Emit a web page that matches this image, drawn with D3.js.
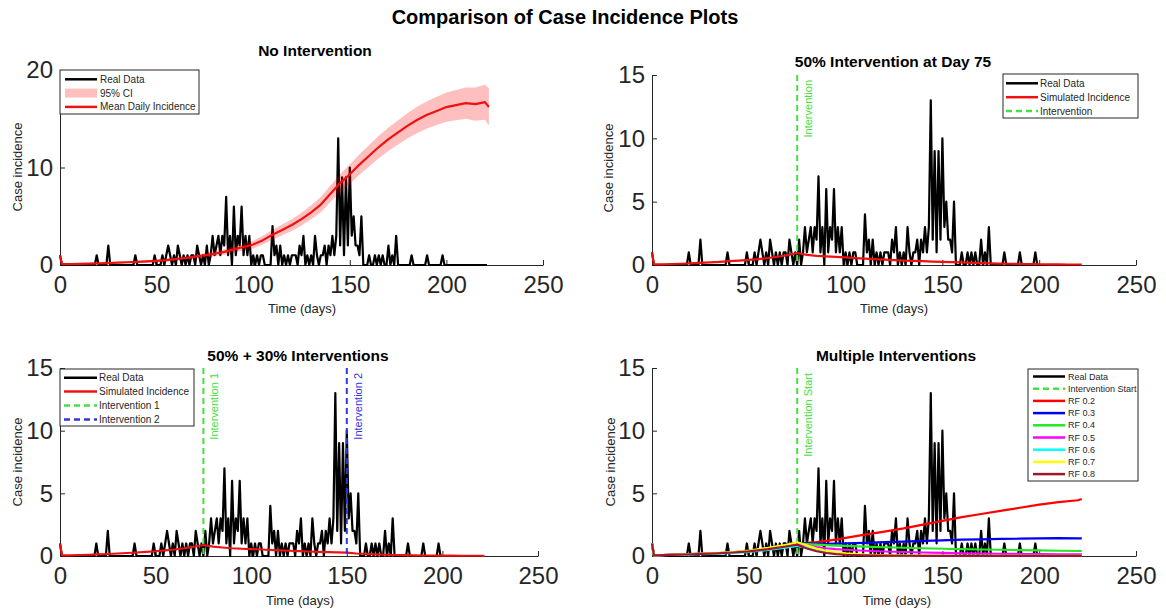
<!DOCTYPE html>
<html>
<head>
<meta charset="utf-8">
<script src="https://cdn.jsdelivr.net/npm/d3@7"></script>
<style>
body { margin: 0; background: #fff; }
svg { display: block; font-family: 'Liberation Sans', Arial, Helvetica, sans-serif; }
</style>
</head>
<body>
<svg id="chart" width="1166" height="612"></svg>
<script>
// reported daily cases, index = day
var realData = [
    1,0,0,0,0,0,0,0,0,0,
    0,0,0,0,0,0,0,0,0,1,
    0,0,0,0,0,2,0,0,0,0,
    0,0,0,0,0,0,0,0,0,1,
    0,0,0,0,0,0,0,0,0,1,
    0,0,0,1,0,1,2,1,0,1,
    0,2,1,0,1,0,1,0,1,1,
    0,2,1,0,1,0,2,0,1,3,
    1,2,3,1,3,2,7,1,3,0,
    6,1,3,2,6,1,3,1,3,0,
    1,0,1,0,1,1,0,0,0,0,
    4,1,2,0,2,0,1,0,1,0,
    1,1,1,0,2,1,3,0,1,0,
    1,0,3,1,0,1,1,2,0,2,
    1,3,1,3,13,2,9,1,9,2,
    10,3,5,2,2,1,5,0,0,0,
    1,0,0,1,0,1,0,1,0,0,
    2,0,1,0,3,0,0,0,0,0,
    0,0,1,0,0,0,0,0,0,0,
    1,0,0,0,0,0,0,0,1,0,
    0,0,0,0,0,0,0,0,0,0,
    0,0,0,0,0,0,0,0,0,0,
    0,0
];

// simulation output days
var simDays = [0,1,5,10,15,20,25,30,35,40,45,50,55,60,65,70,75,80,85,90,95,100,105,110,115,120,
    125,130,135,140,145,150,155,160,165,170,175,180,185,190,195,200,205,210,215,220,222];

var noMean = [1.0,0.1,0.1,0.12,0.14,0.17,0.2,0.24,0.28,0.32,0.37,0.43,0.5,0.6,0.72,0.85,1.0,1.15,1.35,1.6,
    1.85,2.1,2.55,3.1,3.6,4.1,4.7,5.4,6.2,7.3,8.4,9.3,10.3,11.2,12.1,12.9,13.6,14.3,14.9,15.4,
    15.8,16.2,16.4,16.6,16.5,16.7,16.2];
var noLower = [0.95,0.05,0.05,0.06,0.07,0.09,0.11,0.14,0.17,0.2,0.24,0.29,0.35,0.43,0.53,0.64,0.77,0.89,1.06,1.28,
    1.49,1.7,2.1,2.6,3.05,3.5,4.04,4.68,5.42,6.45,7.48,8.3,9.25,10.1,10.95,11.7,12.35,13.0,13.55,14.0,
    14.35,14.7,14.85,15.0,14.8,14.9,14.3];
var noUpper = [1.05,0.15,0.15,0.18,0.21,0.25,0.29,0.34,0.39,0.44,0.5,0.57,0.65,0.77,0.91,1.06,1.23,1.41,1.64,1.92,
    2.21,2.5,3.0,3.6,4.15,4.7,5.36,6.12,6.98,8.15,9.32,10.3,11.35,12.3,13.25,14.1,14.85,15.6,16.25,16.8,
    17.25,17.7,17.95,18.2,18.2,18.5,18.1];

var oneSim = [1.0,0.05,0.05,0.08,0.1,0.13,0.16,0.2,0.25,0.3,0.35,0.4,0.47,0.55,0.65,0.78,0.95,0.8,0.72,0.68,
    0.64,0.6,0.55,0.5,0.46,0.42,0.38,0.35,0.32,0.3,0.27,0.25,0.22,0.2,0.17,0.15,0.13,0.11,0.1,0.08,
    0.07,0.06,0.05,0.05,0.04,0.04,0.04];
var twoSim = [1.0,0.05,0.05,0.08,0.1,0.13,0.16,0.2,0.24,0.28,0.33,0.38,0.45,0.52,0.62,0.74,0.88,0.75,0.68,0.62,
    0.58,0.55,0.52,0.48,0.45,0.42,0.39,0.36,0.33,0.31,0.29,0.27,0.2,0.16,0.13,0.1,0.08,0.07,0.05,0.04,
    0.04,0.03,0.03,0.02,0.02,0.02,0.02];

// reduction factor runs
var rfDays = [0,1,10,20,30,40,50,60,70,75,80,85,90,95,100,110,120,130,140,150,160,170,180,190,200,210,220,222];
var rf02 = [1.0,0.05,0.1,0.15,0.2,0.28,0.4,0.6,0.85,1.0,1.05,1.1,1.2,1.3,1.45,1.7,1.95,2.2,2.5,2.8,3.1,3.35,3.6,3.85,4.1,4.3,4.45,4.55];
var rf03 = [1.0,0.05,0.1,0.15,0.2,0.28,0.42,0.62,0.88,1.05,1.0,0.98,0.97,0.98,1.0,1.05,1.1,1.15,1.2,1.25,1.3,1.33,1.36,1.38,1.4,1.42,1.4,1.4];
var rf04 = [1.0,0.05,0.1,0.15,0.2,0.28,0.4,0.6,0.85,1.0,0.95,0.9,0.86,0.83,0.8,0.75,0.7,0.66,0.62,0.58,0.55,0.52,0.5,0.47,0.45,0.42,0.4,0.4];
var rf05 = [1.0,0.05,0.1,0.15,0.2,0.27,0.38,0.57,0.8,0.95,0.85,0.72,0.62,0.55,0.5,0.42,0.36,0.32,0.28,0.25,0.22,0.2,0.18,0.16,0.15,0.14,0.13,0.13];
var rf06 = [1.0,0.05,0.08,0.12,0.17,0.23,0.32,0.48,0.68,0.8,0.65,0.45,0.32,0.24,0.18,0.1,0.06,0.04,0.03,0.02,0.02,0.01,0.01,0.01,0.01,0.01,0.01,0.01];
var rf07 = [1.0,0.05,0.1,0.16,0.22,0.3,0.43,0.65,0.92,1.1,0.85,0.6,0.42,0.3,0.22,0.12,0.07,0.04,0.03,0.02,0.02,0.01,0.01,0.01,0.01,0.01,0.01,0.01];
var rf08 = [1.0,0.05,0.09,0.14,0.19,0.26,0.37,0.55,0.78,0.9,0.6,0.38,0.24,0.15,0.1,0.05,0.03,0.02,0.01,0.01,0.01,0.01,0.01,0.01,0.01,0.01,0.01,0.01];
var rfSeries = [rf02, rf03, rf04, rf05, rf06, rf07, rf08];
var rfLabels = ['RF 0.2', 'RF 0.3', 'RF 0.4', 'RF 0.5', 'RF 0.6', 'RF 0.7', 'RF 0.8'];
var rfColors = ['#ff0000', '#0000f0', '#22e822', '#ff00ff', '#00ffff', '#ffff00', '#a2142f'];

var xTicks = [0, 50, 100, 150, 200, 250];
var firstDay = 75, secondDay = 150;

var RED = '#ee1111', GREEN = '#44e044', BLUE = '#3535e0', AXIS = '#262626';

var svg = d3.select('#chart');

svg.append('text')
    .text('Comparison of Case Incidence Plots')
    .attr('x', 565)
    .attr('y', 17)
    .attr('dy', '0.35em')
    .attr('text-anchor', 'middle')
    .attr('font-size', 20)
    .attr('font-weight', 'bold');

function panel(o){
    var x = d3.scaleLinear().domain([0, 250]).range([o.left, o.right]),
        y = d3.scaleLinear().domain([0, o.ymax]).range([o.bottom, o.top]),
        g = svg.append('g');

    var ax = g.append('g')
        .attr('transform', 'translate(0,' + o.bottom + ')')
        .call(d3.axisBottom(x).tickValues(xTicks).tickSize(-5).tickSizeOuter(0).tickPadding(11));
    var ay = g.append('g')
        .attr('transform', 'translate(' + o.left + ',0)')
        .call(d3.axisLeft(y).tickValues(o.yTicks).tickSize(-5).tickSizeOuter(0).tickPadding(7));

    [ax, ay].forEach(function(a){
        a.attr('font-size', 24).attr('font-family', null);
        a.selectAll('.domain, .tick line').attr('stroke', AXIS).attr('stroke-width', 1);
        a.selectAll('text').attr('fill', AXIS);
    });

    g.append('text')
        .text(o.title)
        .attr('x', o.titleX)
        .attr('y', o.titleY)
        .attr('dy', '0.35em')
        .attr('text-anchor', 'middle')
        .attr('font-size', 15.5)
        .attr('font-weight', 'bold');

    g.append('text')
        .text('Case incidence')
        .attr('transform', 'translate(' + o.ylabX + ',' + o.ylabY + ') rotate(-90)')
        .attr('dy', '0.35em')
        .attr('text-anchor', 'middle')
        .attr('font-size', 13)
        .attr('fill', AXIS);

    g.append('text')
        .text('Time (days)')
        .attr('x', o.xlabX)
        .attr('y', o.xlabY)
        .attr('dy', '0.35em')
        .attr('text-anchor', 'middle')
        .attr('font-size', 13)
        .attr('fill', AXIS);

    return {x: x, y: y, g: g, o: o};
}

function drawReal(p){
    p.g.append('path')
        .datum(realData)
        .attr('d', d3.line().x((d, i) => p.x(i)).y(d => p.y(d)))
        .attr('fill', 'none')
        .attr('stroke', '#000')
        .attr('stroke-width', 2.2)
        .attr('stroke-linejoin', 'round');
}

function drawSim(p, days, values, color){
    p.g.append('path')
        .datum(values)
        .attr('d', d3.line().x((d, i) => p.x(days[i])).y(d => p.y(d)))
        .attr('fill', 'none')
        .attr('stroke', color)
        .attr('stroke-width', 2.2)
        .attr('stroke-linejoin', 'round');
}

function drawMarker(p, day, color, label){
    p.g.append('line')
        .attr('x1', p.x(day))
        .attr('x2', p.x(day))
        .attr('y1', p.y(p.o.ymax))
        .attr('y2', p.y(0))
        .attr('stroke', color)
        .attr('stroke-width', 2)
        .attr('stroke-dasharray', '6,4');

    p.g.append('text')
        .text(label)
        .attr('transform', 'translate(' + (p.x(day) + 11) + ',' + (p.y(p.o.ymax) + 5) + ') rotate(-90)')
        .attr('dy', '0.35em')
        .attr('text-anchor', 'end')
        .attr('font-size', 11)
        .attr('fill', color);
}

function legend(p, b, items){
    var g = p.g.append('g');

    g.append('rect')
        .attr('x', b.x)
        .attr('y', b.y)
        .attr('width', b.w)
        .attr('height', b.h)
        .attr('fill', '#fff')
        .attr('stroke', AXIS)
        .attr('stroke-width', 1);

    var row = g.selectAll('g.item')
        .data(items)
        .enter()
        .append('g')
        .attr('class', 'item')
        .attr('transform', (d, i) => 'translate(0,' + (b.first + i * b.step) + ')');

    row.filter(d => d.type === 'patch')
        .append('rect')
        .attr('x', b.lx1)
        .attr('y', -4.5)
        .attr('width', b.lx2 - b.lx1)
        .attr('height', 9)
        .attr('fill', d => d.color)
        .attr('fill-opacity', 0.25);

    row.filter(d => d.type !== 'patch')
        .append('line')
        .attr('x1', b.lx1)
        .attr('x2', b.lx2)
        .attr('stroke', d => d.color)
        .attr('stroke-width', 2.5)
        .attr('stroke-dasharray', d => d.type === 'dash' ? '6,4' : null);

    row.append('text')
        .text(d => d.label)
        .attr('x', b.tx)
        .attr('dy', '0.35em')
        .attr('font-size', b.font)
        .attr('fill', AXIS);
}

// --- No Intervention
var p1 = panel({left: 60, right: 543, top: 70, bottom: 265, ymax: 20, yTicks: [0, 10, 20],
    title: 'No Intervention', titleX: 315, titleY: 51,
    ylabX: 17, ylabY: 167, xlabX: 302, xlabY: 308});
drawReal(p1);
p1.g.append('path')
    .datum(noMean)
    .attr('d', d3.area()
        .x((d, i) => p1.x(simDays[i]))
        .y0((d, i) => p1.y(noLower[i]))
        .y1((d, i) => p1.y(noUpper[i])))
    .attr('fill', '#ff0000')
    .attr('fill-opacity', 0.25);
drawSim(p1, simDays, noMean, RED);
legend(p1, {x: 60, y: 70, w: 139, h: 44, first: 79.3, step: 13.8, lx1: 65, lx2: 97, tx: 100, font: 10}, [
    {label: 'Real Data', type: 'line', color: '#000'},
    {label: '95% CI', type: 'patch', color: '#ff0000'},
    {label: 'Mean Daily Incidence', type: 'line', color: RED}
]);

// --- 50% at day 75
var p2 = panel({left: 652, right: 1136, top: 75, bottom: 265, ymax: 15, yTicks: [0, 5, 10, 15],
    title: '50% Intervention at Day 75', titleX: 893, titleY: 62,
    ylabX: 608, ylabY: 168, xlabX: 894, xlabY: 308});
drawReal(p2);
drawSim(p2, simDays, oneSim, RED);
drawMarker(p2, firstDay, GREEN, 'Intervention');
legend(p2, {x: 1003, y: 74, w: 135, h: 44, first: 83.3, step: 13.9, lx1: 1006, lx2: 1038, tx: 1040, font: 10}, [
    {label: 'Real Data', type: 'line', color: '#000'},
    {label: 'Simulated Incidence', type: 'line', color: RED},
    {label: 'Intervention', type: 'dash', color: GREEN}
]);

// --- 50% + 30%
var p3 = panel({left: 60, right: 538, top: 368, bottom: 556, ymax: 15, yTicks: [0, 5, 10, 15],
    title: '50% + 30% Interventions', titleX: 298, titleY: 356,
    ylabX: 17, ylabY: 462, xlabX: 300, xlabY: 600});
drawReal(p3);
drawSim(p3, simDays, twoSim, RED);
drawMarker(p3, firstDay, GREEN, 'Intervention 1');
drawMarker(p3, secondDay, BLUE, 'Intervention 2');
legend(p3, {x: 60, y: 369, w: 134, h: 57, first: 377.7, step: 13.9, lx1: 64, lx2: 97, tx: 99, font: 10}, [
    {label: 'Real Data', type: 'line', color: '#000'},
    {label: 'Simulated Incidence', type: 'line', color: RED},
    {label: 'Intervention 1', type: 'dash', color: GREEN},
    {label: 'Intervention 2', type: 'dash', color: BLUE}
]);

// --- multiple reduction factors
var p4 = panel({left: 652, right: 1136, top: 368, bottom: 556, ymax: 15, yTicks: [0, 5, 10, 15],
    title: 'Multiple Interventions', titleX: 896, titleY: 356,
    ylabX: 610, ylabY: 462, xlabX: 897, xlabY: 600});
drawReal(p4);
drawMarker(p4, firstDay, GREEN, 'Intervention Start');
rfSeries.forEach(function(s, i){ drawSim(p4, rfDays, s, rfColors[i]); });
legend(p4, {x: 1028, y: 369, w: 110, h: 112, first: 376.5, step: 12.2, lx1: 1033, lx2: 1065, tx: 1068, font: 9},
    [{label: 'Real Data', type: 'line', color: '#000'},
     {label: 'Intervention Start', type: 'dash', color: GREEN}]
    .concat(rfLabels.map((l, i) => ({label: l, type: 'line', color: rfColors[i]}))));
</script>
</body>
</html>
